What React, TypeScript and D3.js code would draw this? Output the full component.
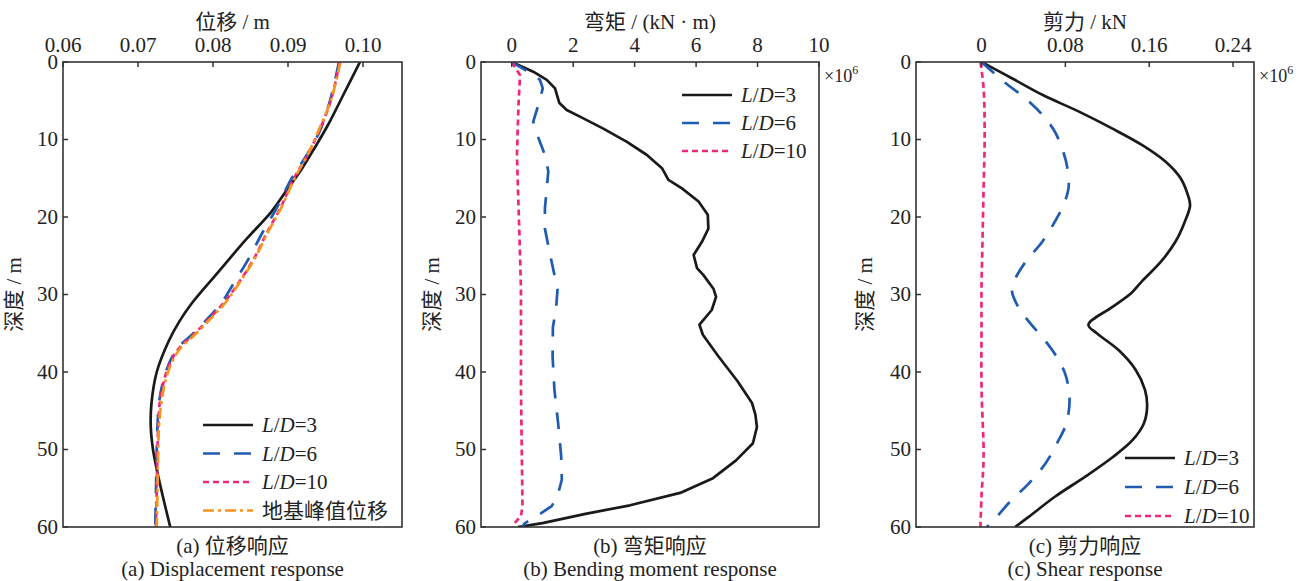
import React from "react";
import * as d3 from "d3";

// ---------- shared axes ----------
const depthTicks = [0, 10, 20, 30, 40, 50, 60];
const dispTicks = [0.06, 0.07, 0.08, 0.09, 0.1];
const momentTicks = [0, 2, 4, 6, 8, 10];
const shearTicks = [0, 0.08, 0.16, 0.24];

// ---------- (a) displacement, m ----------
const dispDepthLD3 = [0, 4, 8, 11, 14, 16.3, 19.3, 22.8, 27.1, 31.1, 33.5, 36, 40, 44, 47, 50, 53, 56, 60];
const dispLD3 = [0.0996, 0.0975, 0.0954, 0.0936, 0.0917, 0.09, 0.0878, 0.0845, 0.0807, 0.0772, 0.0755, 0.0741, 0.0725, 0.0718, 0.0717, 0.072, 0.0726, 0.0733, 0.0743];
const dispDepthLD6 = [0, 5, 9, 12, 15, 19, 22, 25.3, 28.8, 31, 33, 35, 37, 39, 41, 44, 47, 50, 55, 60];
const dispLD6 = [0.0968, 0.0956, 0.0942, 0.0925, 0.0905, 0.0884, 0.0866, 0.0848, 0.0826, 0.0812, 0.0794, 0.0774, 0.0752, 0.0741, 0.0734, 0.0728, 0.0726, 0.0725, 0.0724, 0.0723];
const dispDepthLD10 = [0, 5, 9, 12, 15, 19, 22, 25.3, 28.8, 31, 33, 35, 37, 39, 41, 44, 47, 50, 55, 60];
const dispLD10 = [0.0969, 0.0957, 0.0941, 0.0926, 0.0908, 0.0889, 0.0872, 0.0855, 0.0832, 0.0815, 0.0796, 0.0776, 0.0754, 0.0742, 0.0735, 0.0729, 0.0727, 0.0726, 0.0725, 0.0724];
const dispDepthGround = [0, 5, 9, 12, 15, 19, 22, 25.3, 28.8, 31, 33, 35, 37, 39, 41, 44, 47, 50, 55, 60];
const dispGround = [0.097, 0.0957, 0.094, 0.0926, 0.0909, 0.089, 0.0873, 0.0856, 0.0833, 0.0817, 0.0798, 0.0778, 0.0756, 0.0744, 0.0737, 0.0731, 0.0728, 0.0727, 0.0726, 0.0725];

// ---------- (b) bending moment, ×10^6 kN·m ----------
const momentDepthLD3 = [0, 1.25, 2.3, 3.4, 4.5, 5.3, 6.2, 7.05, 8.6, 10.3, 12, 13.7, 15.2, 16.3, 18, 19.7, 21.5, 23.2, 24.9, 26.6, 27.5, 29.3, 30.3, 32, 33.9, 35.2, 38, 41.2, 44, 45.5, 47.1, 49.2, 51.4, 53.7, 55.6, 57.2, 58.3, 59.5, 60];
const momentLD3 = [0, 0.7, 1.14, 1.41, 1.49, 1.55, 1.79, 2.22, 2.98, 3.75, 4.4, 4.89, 5.1, 5.54, 6.08, 6.38, 6.4, 6.19, 5.92, 6.03, 6.24, 6.57, 6.65, 6.51, 6.11, 6.22, 6.73, 7.35, 7.82, 7.93, 7.98, 7.85, 7.3, 6.55, 5.48, 3.85, 2.4, 1.0, 0.2];
const momentDepthLD6 = [0, 1.25, 2.3, 3.4, 5.5, 7.7, 9.8, 12, 14.1, 16.3, 18.9, 21.5, 24.9, 29.3, 32, 34.2, 38, 42.3, 46.6, 50.9, 53.9, 56, 57.3, 58.5, 59.5, 60];
const momentLD6 = [0, 0.54, 0.92, 1.01, 0.87, 0.7, 0.87, 1.08, 1.19, 1.14, 1.08, 1.08, 1.25, 1.49, 1.44, 1.34, 1.33, 1.39, 1.51, 1.61, 1.63, 1.49, 1.3, 0.85, 0.43, 0.33];
const momentDepthLD10 = [0, 1.7, 5.5, 12, 18.5, 24.9, 29.2, 33.7, 42.3, 50.9, 57.3, 58.6, 59.5, 60];
const momentLD10 = [0, 0.27, 0.22, 0.17, 0.22, 0.27, 0.3, 0.3, 0.3, 0.33, 0.35, 0.3, 0.09, 0.05];

// ---------- (c) shear, ×10^6 kN ----------
const shearDepthLD3 = [0, 2.1, 4.3, 6.4, 8.6, 10.7, 12.9, 15, 17.2, 18.5, 20.6, 23.2, 25.8, 28.3, 29.8, 31.6, 33.9, 35, 37.2, 39.7, 42.3, 44.5, 46.6, 48.8, 50.9, 53.5, 56.1, 58.7, 60];
const shearLD3 = [0, 0.029, 0.059, 0.093, 0.125, 0.153, 0.176, 0.19, 0.197, 0.199, 0.194, 0.185, 0.171, 0.153, 0.143, 0.125, 0.102, 0.11, 0.131, 0.147, 0.156, 0.158, 0.155, 0.144, 0.126, 0.099, 0.07, 0.045, 0.032];
const shearDepthLD6 = [0, 2.5, 4.7, 6.8, 9, 11.6, 13.7, 16.3, 18.5, 20.6, 23.2, 25.8, 28.3, 29.5, 31.6, 33.8, 36, 38.1, 40.3, 43.3, 46.6, 49.2, 51.8, 54.4, 56.9, 59.1, 60];
const shearLD6 = [0, 0.021, 0.042, 0.058, 0.07, 0.078, 0.082, 0.083, 0.078, 0.07, 0.058, 0.042, 0.031, 0.029, 0.035, 0.047, 0.061, 0.072, 0.08, 0.084, 0.081, 0.072, 0.061, 0.045, 0.026, 0.012, 0.005];
const shearDepthLD10 = [0, 3.4, 9.8, 16.3, 22.8, 29.2, 33.8, 42, 51, 56, 60];
const shearLD10 = [-0.001, 0.002, 0.003, 0.002, 0.001, 0, 0, 0, 0.002, 0, -0.001];

const LATIN = "'Liberation Serif', 'Times New Roman', 'Noto Sans CJK SC', serif";
const FS = 21;

const TOP = 62;
const BOTTOM = 527;

type Series = {
  depth: number[];
  values: number[];
  color: string;
  dash?: string;
  label: string;
  latin: boolean;
};

const styleLD3 = { color: "#1a1a1a", dash: undefined };
const styleLD6 = { color: "#1f5bb0", dash: "17,14" };
const styleLD10 = { color: "#f0287a", dash: "6,4" };
const styleGround = { color: "#f7941d", dash: "11,4,3,4" };

function LegendLabel({ s, x, y }: { s: Series; x: number; y: number }) {
  if (!s.latin) {
    return (
      <text x={x} y={y} dy="0.35em" fontSize={FS} fontFamily={LATIN} fill="#222">
        {s.label}
      </text>
    );
  }
  const n = s.label.split("=")[1];
  return (
    <text x={x} y={y} dy="0.35em" fontSize={FS} fontFamily={LATIN} fill="#222">
      <tspan fontStyle="italic">L</tspan>/<tspan fontStyle="italic">D</tspan>={n}
    </text>
  );
}

type PanelProps = {
  left: number;
  right: number;
  domain: [number, number];
  ticks: number[];
  fmt: (v: number) => string;
  title: string;
  yTitleX: number;
  series: Series[];
  legendX: number;
  legendY: number;
  legendGap: number;
  scaleNote: boolean;
  caption1: string;
  caption2: string;
  smooth: boolean;
};

function Panel(p: PanelProps) {
  const x = d3.scaleLinear().domain(p.domain).range([p.left, p.right]);
  const y = d3.scaleLinear().domain([0, 60]).range([TOP, BOTTOM]);
  const cx = (p.left + p.right) / 2;
  const line = d3
    .line<[number, number]>()
    .x((d) => x(d[0]))
    .y((d) => y(d[1]))
    .curve(p.smooth ? d3.curveCatmullRom.alpha(0.5) : d3.curveLinear);

  return (
    <g>
      <defs>
        <clipPath id={`clip-${p.left}`}>
          <rect x={p.left} y={TOP} width={p.right - p.left} height={BOTTOM - TOP} />
        </clipPath>
      </defs>
      <g clipPath={`url(#clip-${p.left})`}>
        {p.series.map((s, i) => (
          <path
            key={i}
            d={line(s.values.map((v, j) => [v, s.depth[j]] as [number, number])) || ""}
            fill="none"
            stroke={s.color}
            strokeWidth={2.7}
            strokeDasharray={s.dash}
            strokeLinejoin="round"
          />
        ))}
      </g>
      <rect
        x={p.left}
        y={TOP}
        width={p.right - p.left}
        height={BOTTOM - TOP}
        fill="none"
        stroke="#333"
        strokeWidth={1.6}
      />
      {p.ticks.map((t) => (
        <g key={`xt${t}`}>
          <line x1={x(t)} x2={x(t)} y1={TOP} y2={TOP + 5} stroke="#333" strokeWidth={1.5} />
          <text x={x(t)} y={TOP - 10} textAnchor="middle" fontSize={FS} fontFamily={LATIN} fill="#222">
            {p.fmt(t)}
          </text>
        </g>
      ))}
      {depthTicks.map((t) => (
        <g key={`yt${t}`}>
          <line x1={p.left} x2={p.left + 5} y1={y(t)} y2={y(t)} stroke="#333" strokeWidth={1.5} />
          <text x={p.left - 5} y={y(t)} dy="0.33em" textAnchor="end" fontSize={FS} fontFamily={LATIN} fill="#222">
            {t}
          </text>
        </g>
      ))}
      <text x={cx} y={29} textAnchor="middle" fontSize={FS} fontFamily={LATIN} fill="#222">
        {p.title}
      </text>
      <text
        transform={`translate(${p.yTitleX},${(TOP + BOTTOM) / 2}) rotate(-90)`}
        textAnchor="middle"
        fontSize={FS}
        fontFamily={LATIN}
        fill="#222"
      >
        深度 / m
      </text>
      {p.scaleNote && (
        <text x={p.right + 5} y={82} fontSize={18} fontFamily={LATIN} fill="#222">
          ×10<tspan dy={-8} fontSize={12}>6</tspan>
        </text>
      )}
      {p.series.map((s, i) => {
        const ly = p.legendY + i * p.legendGap;
        return (
          <g key={`lg${i}`}>
            <line
              x1={p.legendX}
              x2={p.legendX + 50}
              y1={ly}
              y2={ly}
              stroke={s.color}
              strokeWidth={2.7}
              strokeDasharray={s.dash}
            />
            <LegendLabel s={s} x={p.legendX + 59} y={ly} />
          </g>
        );
      })}
      <text x={cx} y={553} textAnchor="middle" fontSize={FS} fontFamily={LATIN} fill="#222">
        {p.caption1}
      </text>
      <text x={cx} y={576} textAnchor="middle" fontSize={FS} fontFamily={LATIN} fill="#222">
        {p.caption2}
      </text>
    </g>
  );
}

export default function App() {
  const dispSeries: Series[] = [
    { depth: dispDepthLD3, values: dispLD3, ...styleLD3, label: "L/D=3", latin: true },
    { depth: dispDepthLD6, values: dispLD6, ...styleLD6, label: "L/D=6", latin: true },
    { depth: dispDepthLD10, values: dispLD10, ...styleLD10, label: "L/D=10", latin: true },
    { depth: dispDepthGround, values: dispGround, ...styleGround, label: "地基峰值位移", latin: false },
  ];
  const momentSeries: Series[] = [
    { depth: momentDepthLD3, values: momentLD3, ...styleLD3, label: "L/D=3", latin: true },
    { depth: momentDepthLD6, values: momentLD6, ...styleLD6, label: "L/D=6", latin: true },
    { depth: momentDepthLD10, values: momentLD10, ...styleLD10, label: "L/D=10", latin: true },
  ];
  const shearSeries: Series[] = [
    { depth: shearDepthLD3, values: shearLD3, ...styleLD3, label: "L/D=3", latin: true },
    { depth: shearDepthLD6, values: shearLD6, ...styleLD6, label: "L/D=6", latin: true },
    { depth: shearDepthLD10, values: shearLD10, ...styleLD10, label: "L/D=10", latin: true },
  ];

  return (
    <svg
      width={1310}
      height={581}
      viewBox="0 0 1310 581"
      style={{ position: "absolute", left: 0, top: 0, background: "#fff" }}
    >
      <rect x={0} y={0} width={1310} height={581} fill="#fff" />
      <Panel
        left={63}
        right={402}
        domain={[0.06, 0.1052]}
        ticks={dispTicks}
        fmt={(v) => v.toFixed(2)}
        title="位移 / m"
        yTitleX={21}
        series={dispSeries}
        legendX={203}
        legendY={425}
        legendGap={28.5}
        scaleNote={false}
        caption1="(a) 位移响应"
        caption2="(a) Displacement response"
        smooth={true}
      />
      <Panel
        left={481}
        right={819}
        domain={[-1, 10]}
        ticks={momentTicks}
        fmt={(v) => String(v)}
        title="弯矩 / (kN · m)"
        yTitleX={439}
        series={momentSeries}
        legendX={682}
        legendY={95}
        legendGap={28}
        scaleNote={true}
        caption1="(b) 弯矩响应"
        caption2="(b) Bending moment response"
        smooth={false}
      />
      <Panel
        left={916}
        right={1254}
        domain={[-0.0625, 0.26]}
        ticks={shearTicks}
        fmt={(v) => (v === 0 ? "0" : String(v))}
        title="剪力 / kN"
        yTitleX={872}
        series={shearSeries}
        legendX={1125}
        legendY={458}
        legendGap={29}
        scaleNote={true}
        caption1="(c) 剪力响应"
        caption2="(c) Shear response"
        smooth={true}
      />
    </svg>
  );
}
